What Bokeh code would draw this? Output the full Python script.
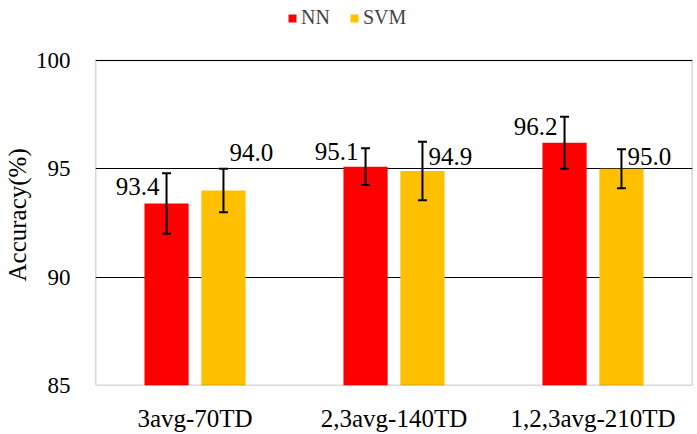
from bokeh.plotting import figure
from bokeh.models import (ColumnDataSource, FactorRange, Whisker, TeeHead,
                          Legend, LegendItem, FixedTicker, BoxAnnotation)
from bokeh.transform import dodge
from bokeh.core.properties import value
from bokeh.embed import file_html
from bokeh.resources import INLINE

# Classification accuracy per feature set
categories = ["3avg-70TD", "2,3avg-140TD", "1,2,3avg-210TD"]
nn_acc = [93.4, 95.1, 96.2]
svm_acc = [94.0, 94.9, 95.0]
nn_err = [1.4, 0.85, 1.2]
svm_err = [1.0, 1.35, 0.9]
y_ticks = [85, 90, 95, 100]
y_min, y_max = 85, 100

# Value-label placement (screen pixels, negative = upwards)
nn_label_dy = [-17, -15, -16]
svm_label_dy = [-38, -15, -12]

FONT = "Liberation Serif"
RED = "#FF0000"
GOLD = "#FFC000"
OFF = 0.143
BAR_W = 0.222

# The frame runs to the top of the canvas so the legend can sit above the box
FRAME_H = 385
BOX_TOP_PX = 60
y_end = y_max + (y_max - y_min) * BOX_TOP_PX / (FRAME_H - BOX_TOP_PX)

src = ColumnDataSource(data=dict(
    cat=categories,
    nn=nn_acc, svm=svm_acc,
    nn_lo=[v - e for v, e in zip(nn_acc, nn_err)],
    nn_hi=[v + e for v, e in zip(nn_acc, nn_err)],
    svm_lo=[v - e for v, e in zip(svm_acc, svm_err)],
    svm_hi=[v + e for v, e in zip(svm_acc, svm_err)],
    nn_txt=[f"{v:.1f}" for v in nn_acc],
    svm_txt=[f"{v:.1f}" for v in svm_acc],
    nn_dy=nn_label_dy, svm_dy=svm_label_dy,
))

p = figure(width=697, height=434, x_range=FactorRange(*categories, range_padding=0),
           y_range=(y_min, y_end), output_backend="svg", toolbar_location=None,
           min_border_left=95, min_border_right=5, min_border_top=0,
           min_border_bottom=434 - FRAME_H)

# Horizontal grid lines and the plot box
p.hspan(y=y_ticks[1:], line_color="black", line_width=1)
p.add_layout(BoxAnnotation(bottom=y_min, top=y_max, fill_alpha=0,
                           line_color="black", line_width=1.5))

r_nn = p.vbar(x=dodge("cat", -OFF, range=p.x_range), top="nn", bottom=y_min,
              width=BAR_W, source=src, fill_color=RED, line_color=None)
r_svm = p.vbar(x=dodge("cat", OFF, range=p.x_range), top="svm", bottom=y_min,
               width=BAR_W, source=src, fill_color=GOLD, line_color=None)

# Error bars drawn on top of the bars
for key, off in (("nn", -OFF), ("svm", OFF)):
    w = Whisker(source=src, base=dodge("cat", off, range=p.x_range),
                upper=f"{key}_hi", lower=f"{key}_lo", dimension="height",
                line_color="black", line_width=2, level="overlay",
                upper_head=TeeHead(size=9, line_width=2, line_color="black"),
                lower_head=TeeHead(size=9, line_width=2, line_color="black"))
    p.add_layout(w)

p.text(x=dodge("cat", -OFF, range=p.x_range), y="nn", text="nn_txt", source=src,
       x_offset=-29, y_offset="nn_dy", text_align="center",
       text_baseline="alphabetic", text_font=value(FONT),
       text_font_size="25px", text_color="black")
p.text(x=dodge("cat", OFF, range=p.x_range), y="svm", text="svm_txt", source=src,
       x_offset=28, y_offset="svm_dy", text_align="center",
       text_baseline="alphabetic", text_font=value(FONT),
       text_font_size="25px", text_color="black")

# Axes; trailing no-break spaces keep the title centred on the box, not the frame
p.yaxis.ticker = FixedTicker(ticks=y_ticks)
p.yaxis.axis_label = "Accuracy(%)" + "\u00a0" * 7
p.yaxis.axis_label_text_font = FONT
p.yaxis.axis_label_text_font_style = "normal"
p.yaxis.axis_label_text_font_size = "25px"
p.yaxis.axis_label_text_color = "black"
p.yaxis.axis_label_standoff = 2
p.yaxis.major_label_standoff = 19
for ax in (p.xaxis, p.yaxis):
    ax.axis_line_color = None
    ax.major_tick_line_color = None
    ax.minor_tick_line_color = None
    ax.major_label_text_font = FONT
    ax.major_label_text_color = "black"
p.yaxis.major_label_text_font_size = "23px"
p.xaxis.major_label_text_font_size = "25px"
p.xaxis.major_label_standoff = 13

p.xgrid.grid_line_color = None
p.ygrid.grid_line_color = None
p.outline_line_color = None
p.background_fill_color = "white"
p.border_fill_color = "white"

legend = Legend(items=[LegendItem(label="NN", renderers=[r_nn]),
                       LegendItem(label="SVM", renderers=[r_svm])],
                orientation="horizontal", location=(192, 356),
                glyph_width=10, glyph_height=10, label_height=20,
                label_standoff=4, spacing=19, padding=0, margin=0,
                label_text_font=FONT, label_text_font_size="20px",
                border_line_color=None, background_fill_alpha=0)
p.add_layout(legend, "center")

open("out.html", "w").write(file_html(p, INLINE))
